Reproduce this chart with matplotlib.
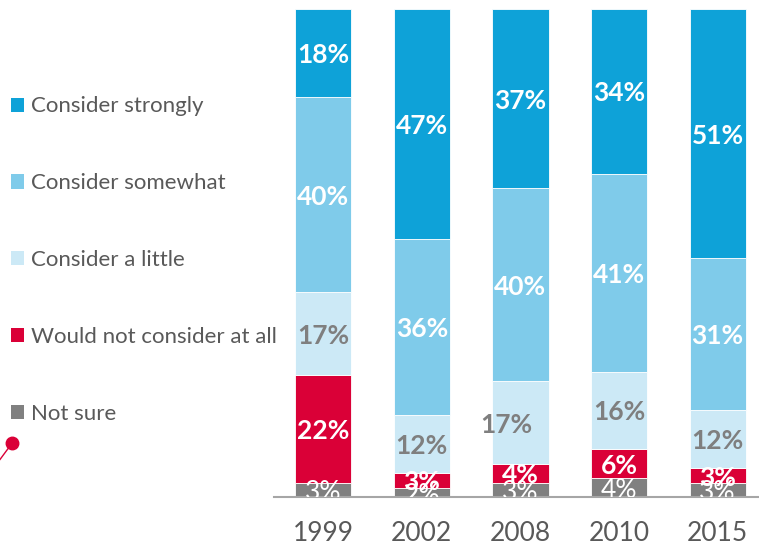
import numpy as np
import matplotlib.pyplot as plt
from matplotlib.patches import Patch
from matplotlib.lines import Line2D

plt.rcParams['font.family'] = ['Lato', 'DejaVu Sans']

# survey waves
years = ['1999', '2002', '2008', '2010', '2015']

# share of answers per wave, in %
not_sure = [3, 2, 3, 4, 3]
not_at_all = [22, 3, 4, 6, 3]
a_little = [17, 12, 17, 16, 12]
somewhat = [40, 36, 40, 41, 31]
strongly = [18, 47, 37, 34, 51]

labels = ['Not sure', 'Would not consider at all', 'Consider a little',
          'Consider somewhat', 'Consider strongly']
colors = ['#808080', '#DA0037', '#CCE9F6', '#7FCBEA', '#0EA2D8']
text_colors = ['white', 'white', '#7F7F7F', 'white', 'white']
text_weights = ['normal', 'bold', 'bold', 'bold', 'bold']

series = np.array([not_sure, not_at_all, a_little, somewhat, strongly], dtype=float)
# rounded values may add up to 101, so scale each column to fill the bar
shares = series / series.sum(axis=0) * 100

fig = plt.figure(figsize=(7.59, 5.47), dpi=100)
ax = fig.add_axes([0.361, 0.0905, 0.639, 0.8925])

x = np.arange(len(years))
bottom = np.zeros(len(years))
bars = []
for i in range(len(labels)):
    b = ax.bar(x, shares[i], 0.57, bottom=bottom, color=colors[i],
               edgecolor='white', linewidth=0.6, label=labels[i])
    bars.append(b)
    for j in range(len(years)):
        xc = x[j]
        # the 2008 "a little" label sits a bit off to the left
        if i == 2 and j == 2:
            xc -= 0.14
        ax.text(xc, bottom[j] + shares[i][j] / 2, f'{int(series[i][j])}%',
                ha='center', va='center_baseline', fontsize=19, color=text_colors[i],
                fontweight=text_weights[i], clip_on=True)
    bottom += shares[i]

ax.set_xlim(-0.5, 4.42)
ax.set_ylim(0, 100)
ax.set_xticks(x)
ax.set_xticklabels(years, fontsize=19, color='#595959')
ax.tick_params(axis='x', length=0, pad=17)
ax.set_yticks([])
for side in ['top', 'right', 'left']:
    ax.spines[side].set_visible(False)
ax.spines['bottom'].set_color('#A6A6A6')
ax.spines['bottom'].set_linewidth(1.5)

handles = [Patch(facecolor=colors[i], edgecolor='none') for i in range(len(labels))][::-1]
fig.legend(handles, labels[::-1], loc='upper left', bbox_to_anchor=(0.0, 0.844),
           frameon=False, fontsize=16, labelcolor='#595959',
           handlelength=0.6, handleheight=0.6, handletextpad=0.3,
           labelspacing=2.56, borderaxespad=0, borderpad=0.5)

# small pin marker at the left edge
fig.add_artist(Line2D([0.0, 0.016], [0.16, 0.19], color='#DA0037', linewidth=1,
                      transform=fig.transFigure))
fig.add_artist(Line2D([0.016], [0.19], marker='o', markersize=9, color='#DA0037',
                      transform=fig.transFigure))

fig.savefig('out.png', dpi=100)
